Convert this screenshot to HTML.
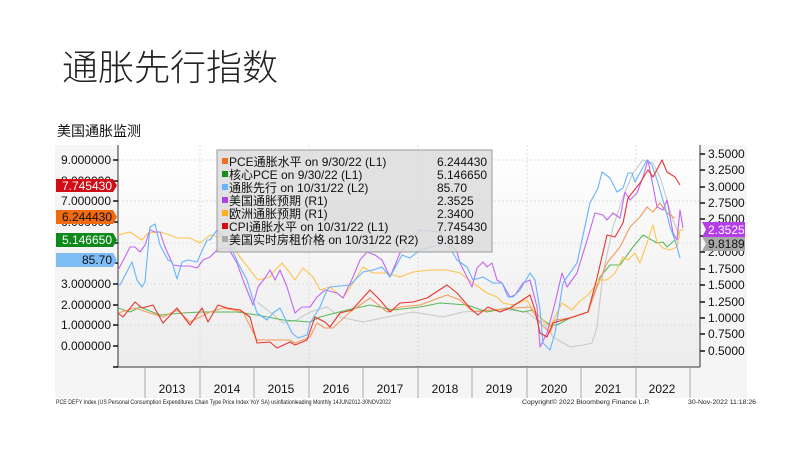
<!DOCTYPE html>
<html><head><meta charset="utf-8"><style>
html,body{margin:0;padding:0;background:#fff;}
svg text{font-family:"Liberation Sans","Noto Sans CJK SC",sans-serif;}
</style></head><body>
<svg width="800" height="450" viewBox="0 0 800 450" xmlns="http://www.w3.org/2000/svg">
<defs>
<linearGradient id="bg" x1="0" y1="0" x2="0" y2="1">
<stop offset="0" stop-color="#ffffff"/><stop offset="1" stop-color="#ececec"/>
</linearGradient>
</defs>
<text x="62" y="80" font-size="36" font-weight="300" fill="#222" style="font-family:'Noto Sans CJK SC',sans-serif">通胀先行指数</text>
<text x="57" y="136" font-size="14" fill="#111" style="font-family:'Noto Sans CJK SC',sans-serif">美国通胀监测</text>
<!-- panel -->
<rect x="55" y="145" width="692" height="253" fill="#f5f5f5"/>
<rect x="118" y="145" width="582" height="222" fill="url(#bg)"/>
<!-- grid -->
<g stroke="#d6d6d6" stroke-width="0.8" stroke-dasharray="2,2">
<line x1="200" y1="145" x2="200" y2="367"/><line x1="309" y1="145" x2="309" y2="367"/><line x1="418" y1="145" x2="418" y2="367"/><line x1="527" y1="145" x2="527" y2="367"/><line x1="636" y1="145" x2="636" y2="367"/>
<line x1="118" y1="160" x2="700" y2="160"/><line x1="118" y1="201" x2="700" y2="201"/><line x1="118" y1="243" x2="700" y2="243"/><line x1="118" y1="284" x2="700" y2="284"/><line x1="118" y1="325" x2="700" y2="325"/>
</g>
<!-- axes -->
<g stroke="#333" stroke-width="1">
<line x1="118" y1="145" x2="118" y2="367"/>
<line x1="118" y1="367" x2="700" y2="367"/>
<line x1="700" y1="145" x2="700" y2="367"/>
</g>
<g stroke="#aaa" stroke-width="1">
<line x1="145" y1="367" x2="145" y2="398"/><line x1="200" y1="367" x2="200" y2="398"/><line x1="254" y1="367" x2="254" y2="398"/><line x1="309" y1="367" x2="309" y2="398"/><line x1="363" y1="367" x2="363" y2="398"/><line x1="418" y1="367" x2="418" y2="398"/><line x1="472" y1="367" x2="472" y2="398"/><line x1="527" y1="367" x2="527" y2="398"/><line x1="581" y1="367" x2="581" y2="398"/><line x1="636" y1="367" x2="636" y2="398"/><line x1="690" y1="367" x2="690" y2="398"/>
</g>
<g font-size="12" fill="#111" text-anchor="middle">
<text x="172" y="393">2013</text><text x="227" y="393">2014</text><text x="281" y="393">2015</text><text x="336" y="393">2016</text><text x="390" y="393">2017</text><text x="445" y="393">2018</text><text x="499" y="393">2019</text><text x="554" y="393">2020</text><text x="608" y="393">2021</text><text x="662" y="393">2022</text>
</g>
<!-- left ticks -->
<g stroke="#111" stroke-width="1.5">
<line x1="113" y1="160" x2="118" y2="160"/><line x1="113" y1="181" x2="118" y2="181"/><line x1="113" y1="201" x2="118" y2="201"/><line x1="113" y1="222" x2="118" y2="222"/><line x1="113" y1="243" x2="118" y2="243"/><line x1="113" y1="263" x2="118" y2="263"/><line x1="113" y1="284" x2="118" y2="284"/><line x1="113" y1="305" x2="118" y2="305"/><line x1="113" y1="325" x2="118" y2="325"/><line x1="113" y1="346" x2="118" y2="346"/><line x1="113" y1="367" x2="118" y2="367"/>
</g>
<g font-size="12" fill="#111" text-anchor="end">
<text x="111" y="164">9.000000</text><text x="111" y="185">8.000000</text><text x="111" y="205">7.000000</text><text x="111" y="226">6.000000</text><text x="111" y="247">5.000000</text><text x="111" y="267">4.000000</text><text x="111" y="288">3.000000</text><text x="111" y="309">2.000000</text><text x="111" y="329">1.000000</text><text x="111" y="350">0.000000</text>
</g>
<!-- right ticks -->
<g stroke="#111" stroke-width="1.5">
<line x1="700" y1="154" x2="705" y2="154"/><line x1="700" y1="170" x2="705" y2="170"/><line x1="700" y1="187" x2="705" y2="187"/><line x1="700" y1="203" x2="705" y2="203"/><line x1="700" y1="219" x2="705" y2="219"/><line x1="700" y1="236" x2="705" y2="236"/><line x1="700" y1="252" x2="705" y2="252"/><line x1="700" y1="269" x2="705" y2="269"/><line x1="700" y1="285" x2="705" y2="285"/><line x1="700" y1="302" x2="705" y2="302"/><line x1="700" y1="318" x2="705" y2="318"/><line x1="700" y1="334" x2="705" y2="334"/><line x1="700" y1="351" x2="705" y2="351"/>
</g>
<g font-size="12" fill="#111">
<text x="708" y="158">3.5000</text><text x="708" y="174">3.2500</text><text x="708" y="191">3.0000</text><text x="708" y="207">2.7500</text><text x="708" y="223">2.5000</text><text x="708" y="240">2.2500</text><text x="708" y="256">2.0000</text><text x="708" y="273">1.7500</text><text x="708" y="289">1.5000</text><text x="708" y="306">1.2500</text><text x="708" y="322">1.0000</text><text x="708" y="338">0.7500</text><text x="708" y="355">0.5000</text>
</g>
<!-- series -->
<g fill="none" stroke-width="1.1" stroke-linejoin="round">
<polyline stroke="#c8c8c8" points="257,302 270,312 283,323 297,320 310,312 327,307 340,317 363,322 387,317 413,312 443,317 463,312 487,310 510,310 527,312 537,320 543,322 553,337 570,347 583,345 592,343 597,327 603,273 613,227 623,197 633,173 643,160 653,163 660,177 667,200 673,220 680,237"/>
<polyline stroke="#5cb85c" points="118,308 130,312 140,307 160,315 183,313 200,312 217,312 237,312 257,315 283,320 310,322 320,317 347,310 370,305 393,310 420,307 440,303 467,305 487,312 507,308 523,312 533,310 543,320 550,325 557,325 570,318 588,312 600,277 610,265 620,265 633,247 643,235 657,243 663,242 667,247 675,240"/>
<polyline stroke="#f59a5c" points="118,313 135,308 150,313 163,317 177,310 190,322 210,312 223,308 243,312 257,340 273,340 290,340 295,343 310,337 317,323 325,328 333,328 350,312 370,298 387,312 400,307 420,305 447,295 460,300 473,312 493,310 513,308 530,307 540,323 550,333 555,320 570,318 588,312 597,287 607,263 620,247 630,227 640,217 647,207 653,212 660,203 667,213 673,217 675,218"/>
<polyline stroke="#ffc34d" points="118,235 130,232 142,240 148,233 160,232 170,235 177,238 190,238 200,243 210,235 220,237 230,243 240,257 250,270 258,280 270,277 275,270 282,263 290,273 295,280 303,268 313,277 320,290 330,287 343,298 353,283 363,267 373,273 387,273 400,277 413,272 430,270 447,270 460,273 473,283 487,293 497,297 503,303 513,305 527,300 533,310 543,320 550,327 555,317 562,303 572,310 578,303 588,295 600,280 607,280 615,273 623,257 628,260 635,253 640,263 647,243 653,225 657,242 663,248 670,250 677,247 680,230 684,230"/>
<polyline stroke="#c266f0" points="118,270 125,257 130,247 135,247 140,252 145,245 150,230 155,232 160,232 165,247 173,265 180,266 190,266 197,268 203,260 210,257 217,250 223,248 228,248 237,263 243,280 253,305 258,287 265,278 270,270 275,280 280,270 287,287 295,313 302,307 310,307 317,297 325,290 337,293 343,298 353,277 360,260 367,252 375,255 382,260 390,277 400,253 420,230 440,232 457,252 460,263 472,287 477,268 483,262 487,267 492,263 497,280 502,283 510,297 515,295 523,283 530,280 537,307 540,347 547,333 555,303 562,273 567,287 577,273 588,237 595,213 603,215 607,220 613,213 620,218 625,192 630,200 637,193 643,177 648,160 657,207 663,210 667,200 673,233 677,240 680,210 683,228"/>
<polyline stroke="#66b3ff" points="118,285 120,285 132,262 137,280 142,287 145,282 150,227 155,224 160,245 168,260 172,262 177,279 182,262 188,260 197,262 207,240 210,240 217,230 230,245 238,263 247,280 257,313 267,320 273,313 280,308 292,333 298,338 307,335 310,323 320,307 327,290 330,287 350,285 357,278 363,272 373,270 382,267 390,277 402,255 410,258 420,250 447,243 457,260 467,267 473,280 483,277 493,283 502,283 508,297 513,297 520,290 530,273 535,280 540,310 543,343 550,350 555,333 563,283 577,263 590,203 598,188 602,172 610,178 617,192 623,188 628,173 632,173 635,182 647,160 652,165 658,183 665,207 670,227 675,240 680,258"/>
<polyline stroke="#e8342f" points="118,313 123,317 135,302 142,308 153,305 163,323 177,308 190,325 202,308 208,322 218,305 227,308 240,310 250,317 257,343 270,342 277,348 290,342 295,345 307,340 315,317 325,322 330,327 340,313 352,310 370,290 380,300 390,312 400,303 413,302 427,298 447,285 457,293 470,308 478,315 488,307 500,312 510,308 530,295 535,310 540,333 547,337 553,323 573,317 588,312 597,278 607,235 615,237 623,223 628,198 640,183 648,170 653,177 662,160 667,172 675,177 680,185"/>
</g>
<!-- legend -->
<rect x="217" y="150" width="275" height="102" fill="#dcdcdc" fill-opacity="0.85" stroke="#9a9a9a" stroke-width="1"/>
<g font-size="12" fill="#111">
<rect x="222" y="158" width="6" height="6" fill="#f07020"/><text x="229" y="166">PCE通胀水平 on 9/30/22 (L1)</text><text x="437" y="166">6.244430</text>
<rect x="222" y="171" width="6" height="6" fill="#1a8a1a"/><text x="229" y="179">核心PCE on 9/30/22 (L1)</text><text x="437" y="179">5.146650</text>
<rect x="222" y="184" width="6" height="6" fill="#66b3ff"/><text x="229" y="192">通胀先行 on 10/31/22 (L2)</text><text x="437" y="192">85.70</text>
<rect x="222" y="197" width="6" height="6" fill="#b040e0"/><text x="229" y="205">美国通胀预期 (R1)</text><text x="437" y="205">2.3525</text>
<rect x="222" y="210" width="6" height="6" fill="#ffb020"/><text x="229" y="218">欧洲通胀预期 (R1)</text><text x="437" y="218">2.3400</text>
<rect x="222" y="223" width="6" height="6" fill="#d01010"/><text x="229" y="231">CPI通胀水平 on 10/31/22 (L1)</text><text x="437" y="231">7.745430</text>
<rect x="222" y="236" width="6" height="6" fill="#aaaaaa"/><text x="229" y="244">美国实时房租价格 on 10/31/22 (R2)</text><text x="437" y="244">9.8189</text>
</g>
<!-- left tags -->
<g font-size="12" text-anchor="end">
<path d="M56,179 H113 L117,185.5 L113,192 H56 Z" fill="#d10c14"/><text x="112" y="190" fill="#fff">7.745430</text>
<path d="M56,210 H113 L117,217 L113,224 H56 Z" fill="#f06a10"/><text x="112" y="221" fill="#111">6.244430</text>
<path d="M56,233 H113 L117,240 L113,247 H56 Z" fill="#0e8a1a"/><text x="112" y="244" fill="#fff">5.146650</text>
<path d="M56,253 H113 L117,260 L113,267 H56 Z" fill="#7dbcf5"/><text x="112" y="264" fill="#111">85.70</text>
</g>
<!-- right tags -->
<g font-size="12">
<path d="M706,229.5 L702,222 H745 V237 H702 Z" fill="#b43fe8"/><text x="708" y="234" fill="#fff">2.3525</text>
<path d="M706,243.5 L702,237 H745 V251 H702 Z" fill="#a8a8a8" transform="translate(0,0)"/><text x="708" y="248" fill="#111">9.8189</text>
</g>
<!-- footer -->
<g font-size="6.5" fill="#222">
<text x="56" y="404" textLength="335" lengthAdjust="spacingAndGlyphs">PCE DEFY Index (US Personal Consumption Expenditures Chain Type Price Index YoY SA) usinflationleading  Monthly 14JUN2012-30NOV2022</text>
<text x="522" y="404" textLength="128" lengthAdjust="spacingAndGlyphs">Copyright© 2022 Bloomberg Finance L.P.</text>
<text x="688" y="404" textLength="68" lengthAdjust="spacingAndGlyphs">30-Nov-2022 11:18:26</text>
</g>
</svg>
</body></html>
